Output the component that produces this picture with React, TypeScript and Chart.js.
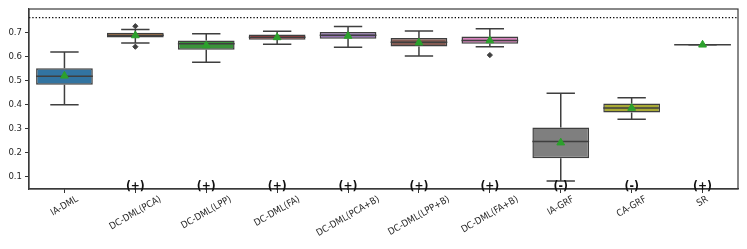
import React, { useEffect, useRef } from 'react';
import { Chart, registerables } from 'chart.js';

Chart.register(...registerables);

const categories = [
  'IA-DML', 'DC-DML(PCA)', 'DC-DML(LPP)', 'DC-DML(FA)', 'DC-DML(PCA+B)',
  'DC-DML(LPP+B)', 'DC-DML(FA+B)', 'IA-GRF', 'CA-GRF', 'SR',
];
const whiskerLow = [0.399, 0.658, 0.577, 0.652, 0.640, 0.603, 0.642, 0.079, 0.338, 0.650];
const q1 = [0.483, 0.681, 0.629, 0.671, 0.675, 0.643, 0.654, 0.175, 0.366, 0.650];
const median = [0.518, 0.690, 0.654, 0.682, 0.690, 0.661, 0.668, 0.245, 0.385, 0.650];
const q3 = [0.552, 0.700, 0.668, 0.693, 0.704, 0.678, 0.685, 0.304, 0.404, 0.650];
const whiskerHigh = [0.620, 0.714, 0.696, 0.707, 0.727, 0.708, 0.717, 0.447, 0.428, 0.650];
const means = [0.520, 0.689, 0.647, 0.681, 0.687, 0.659, 0.668, 0.240, 0.385, 0.650];
const outlierCategory = [1, 1, 6];
const outlierValues = [0.728, 0.642, 0.607];
const significance = ['', '(+)', '(+)', '(+)', '(+)', '(+)', '(+)', '(-)', '(-)', '(+)'];
const referenceValue = 0.764;
const yTicks = [0.1, 0.2, 0.3, 0.4, 0.5, 0.6, 0.7];
const boxColors = [
  '#3274a1', '#e1812c', '#3a923a', '#c03d3e', '#9372b2',
  '#845b53', '#d684bd', '#7f7f7f', '#a9aa35', '#2ebdcc',
];

const EDGE = '#3f3f3f';
const FONT = '"DejaVu Sans Condensed", "DejaVu Sans", sans-serif';

const decorPlugin = {
  id: 'decor',
  afterDraw(chart: any) {
    const { ctx, chartArea: a, scales } = chart;
    const xs = scales.x;
    ctx.save();
    ctx.strokeStyle = '#3a3a3a';
    ctx.lineWidth = 1.2;
    ctx.strokeRect(a.left, a.top, a.right - a.left, a.bottom - a.top);

    ctx.font = `bold 12px ${FONT}`;
    ctx.fillStyle = '#111';
    ctx.textAlign = 'center';
    ctx.textBaseline = 'alphabetic';
    significance.forEach((s, i) => {
      if (s) ctx.fillText(s, xs.getPixelForValue(i), a.bottom + 1);
    });

    ctx.font = `9.5px ${FONT}`;
    ctx.fillStyle = '#262626';
    ctx.textBaseline = 'middle';
    categories.forEach((c, i) => {
      const w = ctx.measureText(c).width;
      const cx = xs.getPixelForValue(i);
      const cy = a.bottom + 7 + (w * 0.5 + 6 * 0.866) / 2;
      ctx.save();
      ctx.translate(cx, cy);
      ctx.rotate(-Math.PI / 6);
      ctx.fillText(c, 0, 0);
      ctx.restore();
    });
    ctx.restore();
  },
};

function segs(build: (i: number) => { x: number; y: number | null }[]) {
  const out: { x: number; y: number | null }[] = [];
  categories.forEach((_, i) => out.push(...build(i)));
  return out;
}

export default function App() {
  const ref = useRef<HTMLCanvasElement>(null);
  useEffect(() => {
    document.body.style.margin = '0';
    const canvas = ref.current!;
    const whiskers = segs((i) => [
      { x: i, y: q3[i] }, { x: i, y: whiskerHigh[i] }, { x: i, y: null },
      { x: i, y: q1[i] }, { x: i, y: whiskerLow[i] }, { x: i, y: null },
    ]);
    const caps = segs((i) => [
      { x: i - 0.2, y: whiskerHigh[i] }, { x: i + 0.2, y: whiskerHigh[i] }, { x: i, y: null },
      { x: i - 0.2, y: whiskerLow[i] }, { x: i + 0.2, y: whiskerLow[i] }, { x: i, y: null },
    ]);
    const medians = segs((i) => [
      { x: i - 0.4, y: median[i] }, { x: i + 0.4, y: median[i] }, { x: i, y: null },
    ]);
    const lineBase = {
      type: 'line' as const,
      borderColor: EDGE,
      borderWidth: 1.5,
      pointRadius: 0,
      spanGaps: false,
      fill: false,
    };
    const chart = new Chart(canvas, {
      type: 'bar',
      data: {
        datasets: [
          { ...lineBase, data: whiskers, order: 6 } as any,
          {
            type: 'bar',
            data: q1.map((v, i) => ({ x: i, y: [v, q3[i]] })),
            backgroundColor: boxColors,
            borderColor: EDGE,
            borderWidth: 1.5,
            borderSkipped: false,
            barPercentage: 0.8,
            categoryPercentage: 1,
            order: 5,
          } as any,
          { ...lineBase, data: medians, order: 4 } as any,
          { ...lineBase, data: caps, order: 4 } as any,
          {
            type: 'line',
            data: [{ x: -0.5, y: referenceValue }, { x: 9.5, y: referenceValue }],
            borderColor: '#000',
            borderWidth: 1.3,
            borderDash: [1.3, 2],
            pointRadius: 0,
            fill: false,
            order: 3,
          } as any,
          {
            type: 'scatter',
            data: outlierValues.map((v, k) => ({ x: outlierCategory[k], y: v })),
            pointStyle: 'rectRot',
            pointRadius: 2.6,
            backgroundColor: EDGE,
            borderColor: EDGE,
            order: 2,
          } as any,
          {
            type: 'scatter',
            data: means.map((m, i) => ({ x: i, y: m })),
            pointStyle: 'triangle',
            pointRadius: 4.5,
            backgroundColor: '#2ca02c',
            borderColor: '#2ca02c',
            borderWidth: 1,
            order: 1,
          } as any,
        ],
      },
      options: {
        animation: false,
        responsive: false,
        maintainAspectRatio: false,
        layout: { padding: { top: 9, right: 9, left: 0, bottom: 0 } },
        plugins: { legend: { display: false }, tooltip: { enabled: false } },
        scales: {
          x: {
            type: 'linear',
            min: -0.5,
            max: 9.5,
            offset: false,
            afterBuildTicks: (s: any) => { s.ticks = categories.map((_, i) => ({ value: i })); },
            grid: { display: true, drawOnChartArea: false, drawTicks: true, tickLength: 4, offset: false, color: '#333' },
            border: { display: true, color: '#3a3a3a', width: 1.2 },
            ticks: { display: false },
            afterFit: (s: any) => { s.height = 60; },
          },
          y: {
            type: 'linear',
            min: 0.046,
            max: 0.8,
            afterBuildTicks: (s: any) => { s.ticks = yTicks.map((v) => ({ value: v })); },
            ticks: {
              callback: (v: any) => Number(v).toFixed(1),
              font: { family: FONT, size: 9.5 },
              color: '#262626',
              padding: 3,
            },
            grid: { drawOnChartArea: false, tickLength: 4, color: '#333' },
            border: { display: true, color: '#3a3a3a', width: 1.2 },
            afterFit: (s: any) => { s.width = 29; },
          },
        } as any,
      },
      plugins: [decorPlugin],
    });
    return () => chart.destroy();
  }, []);
  return <canvas ref={ref} width={747} height={249} style={{ display: 'block' }} />;
}
